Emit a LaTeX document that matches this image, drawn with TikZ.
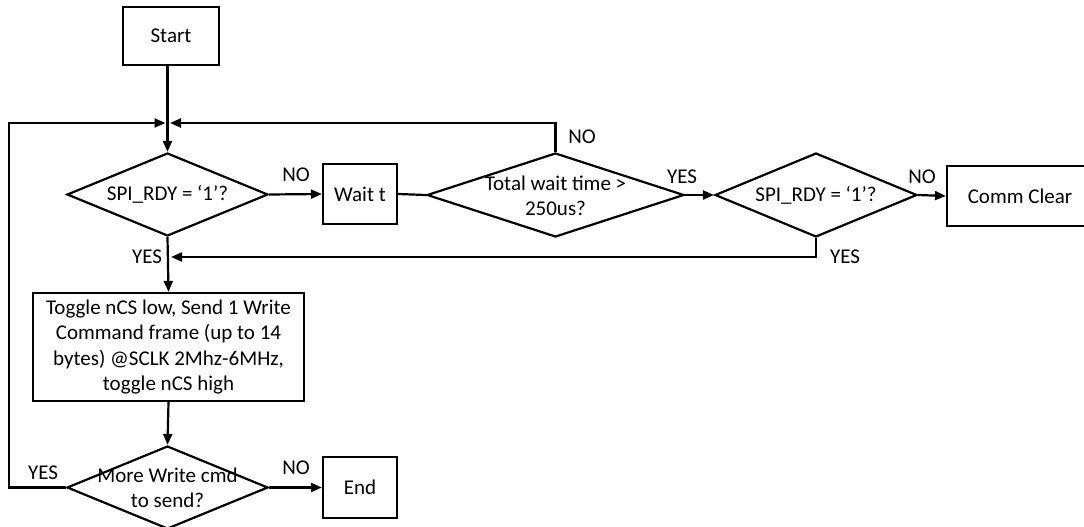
\documentclass[tikz,border=0pt]{standalone}
\usepackage{fontspec}
\setmainfont{Carlito}
\usetikzlibrary{shapes.geometric,arrows.meta}
\begin{document}
\begin{tikzpicture}[x=1pt,y=-1pt,
  every node/.style={font=\fontsize{21}{25.3}\selectfont},
  box/.style={draw, line width=2.2pt, inner sep=0pt, align=center},
  dia/.style={diamond, draw, line width=2.2pt, inner sep=0pt},
  txt/.style={inner sep=0pt, align=center},
  lbl/.style={inner sep=0pt},
  conn/.style={line width=2.2pt},
  arr/.style={line width=2.2pt, -{Triangle[length=11pt,width=9pt]}}]
\useasboundingbox (0,0) rectangle (1084,527);
\clip (0,0) rectangle (1084,527);
% boxes
\node[box, minimum width=96pt, minimum height=58pt] (start) at (171,36) {Start};
\node[box, minimum width=74pt, minimum height=60pt] (wait) at (360,194) {Wait t};
\node[box, minimum width=146pt, minimum height=60pt] (comm) at (1020,196) {Comm Clear};
\node[box, minimum width=271pt, minimum height=108pt] (tog) at (168.5,347)
  {Toggle nCS low, Send 1 Write\\Command frame (up to 14\\bytes) @SCLK 2Mhz-6MHz,\\toggle nCS high};
\node[box, minimum width=74pt, minimum height=61pt] (end) at (360,487.5) {End};
% diamonds
\node[dia, minimum width=201pt, minimum height=83pt] (d1) at (167.5,194.5) {};
\node[txt] (t1) at (d1) {SPI\_RDY = ‘1’?};
\node[dia, minimum width=257pt, minimum height=84pt] (d2) at (555.5,195) {};
\node[txt] (t2) at (555.5,196) {Total wait time >\\250us?};
\node[dia, minimum width=202pt, minimum height=84pt] (d3) at (816,195) {};
\node[txt] (t3) at (d3) {SPI\_RDY = ‘1’?};
\node[dia, minimum width=201pt, minimum height=83pt] (d4) at (167.5,487.5) {};
\node[txt] (t4) at (167.5,488) {More Write cmd\\to send?};
% helper coordinates
\coordinate (jl) at (165.5,123);
\coordinate (jr) at (170,123);
\coordinate (jy) at (171,257);
% connectors
\draw[arr] (d1.north |- start.south) -- (d1.north);
\draw[arr] (d4.west) -- (9,487.5) -- (9,123) -- (jl);
\draw[arr] (d2.north) -- (d2.north |- jr) -- (jr);
\draw[arr] (d1.east) -- (wait.west);
\draw[conn] (wait.east) -- (d2.west);
\draw[arr] (d2.east) -- (d3.west);
\draw[arr] (d3.east) -- (comm.west);
\draw[arr] (d3.south) -- (d3.south |- jy) -- (jy);
\draw[arr] (d1.south) -- (tog.north);
\draw[arr] (tog.south) -- (d4.north);
\draw[arr] (d4.east) -- (end.west);
% labels
\node[lbl] (n1) at (296,175) {NO};
\node[lbl] (y1) at (147,257) {YES};
\node[lbl] (n2) at (582,137) {NO};
\node[lbl] (y2) at (682,177) {YES};
\node[lbl] (n3) at (922,177) {NO};
\node[lbl] (y3) at (845,257) {YES};
\node[lbl] (y4) at (43,473) {YES};
\node[lbl] (n4) at (296,468) {NO};
\end{tikzpicture}
\end{document}
